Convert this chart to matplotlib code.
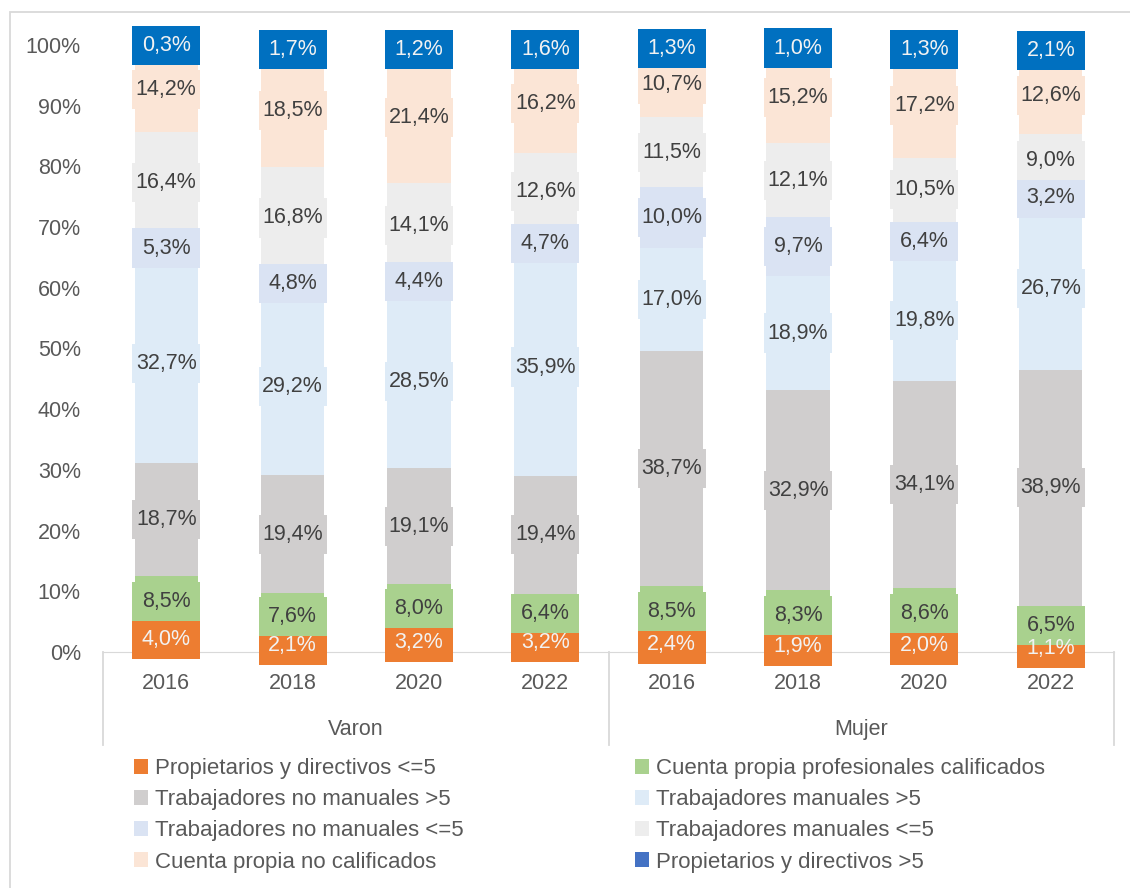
import matplotlib.pyplot as plt
import matplotlib.patches as ptc
from matplotlib.path import Path
import numpy as np

# Datos (porcentaje)
years = ["2016", "2018", "2020", "2022"]
groups = ["Varon", "Mujer"]

series_names = [
    "Propietarios y directivos <=5",
    "Cuenta propia profesionales calificados",
    "Trabajadores no manuales >5",
    "Trabajadores manuales >5",
    "Trabajadores no manuales <=5",
    "Trabajadores manuales <=5",
    "Cuenta propia no calificados",
    "Propietarios y directivos >5",
]

prop_menor5 = [4.0, 2.1, 3.2, 3.2, 2.4, 1.9, 2.0, 1.1]
cp_profesionales = [8.5, 7.6, 8.0, 6.4, 8.5, 8.3, 8.6, 6.5]
no_manuales_mayor5 = [18.7, 19.4, 19.1, 19.4, 38.7, 32.9, 34.1, 38.9]
manuales_mayor5 = [32.7, 29.2, 28.5, 35.9, 17.0, 18.9, 19.8, 26.7]
no_manuales_menor5 = [5.3, 4.8, 4.4, 4.7, 10.0, 9.7, 6.4, 3.2]
manuales_menor5 = [16.4, 16.8, 14.1, 12.6, 11.5, 12.1, 10.5, 9.0]
cp_no_calificados = [14.2, 18.5, 21.4, 16.2, 10.7, 15.2, 17.2, 12.6]
prop_mayor5 = [0.3, 1.7, 1.2, 1.6, 1.3, 1.0, 1.3, 2.1]

series = [prop_menor5, cp_profesionales, no_manuales_mayor5, manuales_mayor5,
          no_manuales_menor5, manuales_menor5, cp_no_calificados, prop_mayor5]

colors = ["#ED7D31", "#A9D18E", "#D0CECE", "#DEEBF7",
          "#DAE3F3", "#EDEDED", "#FBE5D6", "#4472C4"]
label_boxes = ["#ED7D31", "#A9D18E", "#D0CECE", "#DEEBF7",
               "#DAE3F3", "#EDEDED", "#FBE5D6", "#0070C0"]
text_colors = ["#F2F2F2", "#404040", "#404040", "#404040",
               "#404040", "#404040", "#404040", "#F2F2F2"]

plt.rcParams['font.family'] = ['Liberation Sans', 'DejaVu Sans']


def label_box(x0, y0, width, height, mutation_size):
    # caja de ancho fijo (como en Excel), centrada en el texto
    hw = 1.58 * mutation_size
    py = 0.42 * mutation_size
    cx = x0 + width / 2
    xa, xb = cx - hw, cx + hw
    ya, yb = y0 - py, y0 + height + py
    return Path([(xa, ya), (xb, ya), (xb, yb), (xa, yb), (xa, ya)], closed=True)


W, H = 1130, 888
fig = plt.figure(figsize=(W / 100, H / 100), dpi=100)
ax = fig.add_axes([103 / W, (H - 652) / H, (1114 - 103) / W, (652 - 45) / H])

x = np.arange(len(years) * len(groups))
bottom = np.zeros(len(x))
handles = []
for vals, name, c, bc, tc in zip(series, series_names, colors, label_boxes, text_colors):
    vals = np.array(vals)
    bars = ax.bar(x, vals, width=0.5, bottom=bottom, color=c, label=name, zorder=2)
    handles.append(bars)
    for xi, b, v in zip(x, bottom, vals):
        txt = f"{v:.1f}%".replace(".", ",")
        # caja de la etiqueta (debajo de todos los textos)
        ax.text(xi, b + v / 2, txt, ha="center", va="center", fontsize=15.5,
                color="none", zorder=3, clip_on=False,
                bbox=dict(boxstyle=label_box, fc=bc, ec="none"))
        ax.text(xi, b + v / 2, txt, ha="center", va="center", fontsize=15.5,
                color=tc, zorder=4, clip_on=False)
    bottom += vals

ax.set_xlim(-0.5, 7.5)
ax.set_ylim(0, 100)
ax.set_yticks(np.arange(0, 101, 10))
ax.set_yticklabels([f"{t}%" for t in range(0, 101, 10)])
ax.tick_params(axis="y", length=0, pad=16, labelsize=15.5, labelcolor="#595959")
ax.set_xticks([])
for s in ["top", "right", "left"]:
    ax.spines[s].set_visible(False)
ax.spines["bottom"].set_color("#D9D9D9")
ax.spines["bottom"].set_zorder(1)

# etiquetas de categoria
ypx = 100 / (652 - 45)
for i, xi in enumerate(x):
    ax.text(xi, -(683 - 652) * ypx, years[i % 4], ha="center", va="center",
            fontsize=15.5, color="#595959", clip_on=False)
for g, name in enumerate(groups):
    ax.text(g * 4 + 1.5, -(729 - 652) * ypx, name, ha="center", va="center",
            fontsize=15.5, color="#595959", clip_on=False)
for xv in [-0.5, 3.5, 7.5]:
    ax.plot([xv, xv], [0, -(745 - 652) * ypx], color="#D9D9D9", lw=1.3,
            clip_on=False, zorder=1)

# leyenda en dos columnas
order1 = [0, 2, 4, 6]
order2 = [1, 3, 5, 7]
for order, xl in [(order1, 134), (order2, 635)]:
    leg = fig.legend([handles[i] for i in order], [series_names[i] for i in order],
                     loc="upper left", bbox_to_anchor=(xl / W, (H - 758) / H),
                     frameon=False, fontsize=16, handlelength=0.65, handleheight=0.65,
                     handletextpad=0.3, labelspacing=0.46, borderpad=0, borderaxespad=0)
    for t in leg.get_texts():
        t.set_color("#595959")

# borde del grafico
fig.patches.append(ptc.Rectangle((10 / W, -0.1), 1.2, (H - 12) / H + 0.1,
                                 transform=fig.transFigure, fill=False,
                                 ec="#D9D9D9", lw=1.3))

fig.savefig("out.png", dpi=100)
